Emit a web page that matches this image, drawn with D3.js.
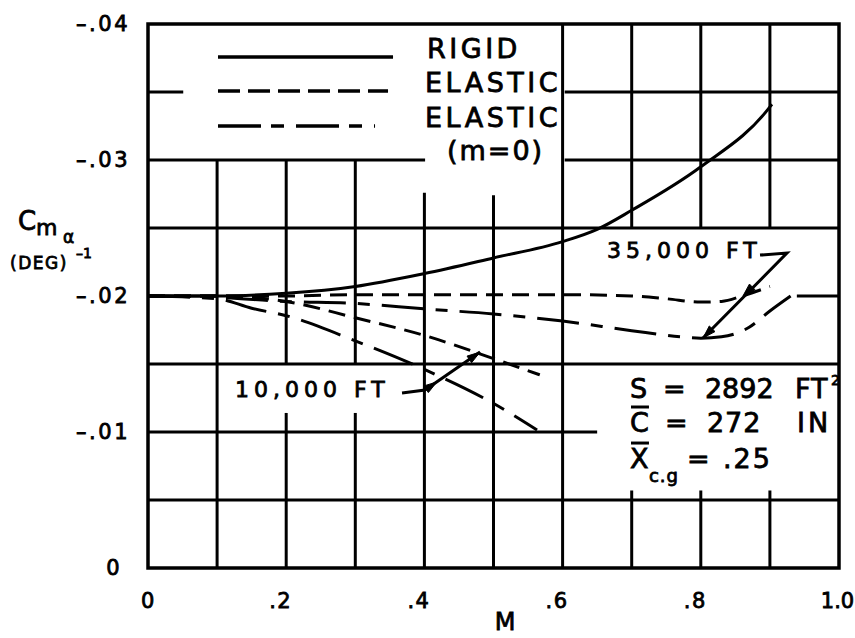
<!DOCTYPE html>
<html><head><meta charset="utf-8">
<script src="https://cdn.jsdelivr.net/npm/d3@7"></script>
<style>
body{margin:0;background:#fff}
svg{display:block;background:#fff}
text{font-family:"DejaVu Sans",sans-serif;fill:#000;stroke:#000;stroke-width:0.8px;font-weight:normal}
</style>
</head><body><svg id="c" width="855" height="638"></svg>
<script>
// ---------- data ----------
const machTicks = [0, 0.2, 0.4, 0.6, 0.8, 1.0];
const machTickLabels = ["0", ".2", ".4", ".6", ".8", "1.0"];
const cmTicks = [0, -0.01, -0.02, -0.03, -0.04];
const cmTickLabels = ["0", "–.01", "–.02", "–.03", "–.04"];

// Rigid (solid)
const rigidM = [0, 0.1, 0.2, 0.3, 0.4, 0.5, 0.6, 0.65, 0.7, 0.8, 0.9, 0.903];
const rigidC = [-0.0200, -0.0200, -0.0202, -0.0207, -0.02165, -0.0228, -0.0240, -0.0249, -0.0263, -0.0295, -0.0339, -0.0341];
// Elastic, 35,000 ft (short dash)
const el35M = [0, 0.1, 0.2, 0.3, 0.4, 0.5, 0.6, 0.7, 0.75, 0.8, 0.83, 0.86, 0.9];
const el35C = [-0.0200, -0.0200, -0.0200, -0.0201, -0.0201, -0.0201, -0.0201, -0.0200, -0.0198, -0.01955, -0.0196, -0.0200, -0.0207];
// Elastic (m=0), 35,000 ft (long-short dash)
const el35m0M = [0, 0.1, 0.2, 0.3, 0.4, 0.5, 0.6, 0.7, 0.77, 0.8, 0.83, 0.87, 0.9, 0.93];
const el35m0C = [-0.0200, -0.0199, -0.0196, -0.01945, -0.01905, -0.01868, -0.01816, -0.01745, -0.0170, -0.0169, -0.0170, -0.0177, -0.0189, -0.0200];
// Elastic, 10,000 ft (short dash)
const el10M = [0, 0.1, 0.2, 0.3, 0.4, 0.5, 0.567];
const el10C = [-0.0200, -0.0200, -0.0196, -0.0184, -0.0171, -0.0154, -0.0142];
// Elastic (m=0), 10,000 ft (long-short dash)
const el10m0M = [0, 0.1, 0.15, 0.2, 0.3, 0.4, 0.5, 0.563];
const el10m0C = [-0.0200, -0.0198, -0.0191, -0.01855, -0.0167, -0.0146, -0.0121, -0.01015];

// grid segments (data units): horizontal [C, M0, M1], vertical [M, C0, C1]
const hGrid = [[-0.035, 0, 0.051], [-0.035, 0.603, 1], [-0.03, 0, 0.401], [-0.03, 0.603, 1],
  [-0.025, 0, 1], [-0.02, 0, 0.1], [-0.02, 0.939, 1], [-0.015, 0, 1], [-0.01, 0, 0.65], [-0.005, 0, 1]];
const vGrid = [[0.1, -0.03, 0], [0.2, -0.03, -0.015], [0.2, -0.0114, 0], [0.3, -0.03, -0.015], [0.3, -0.0114, 0],
  [0.4, -0.0276, 0], [0.5, -0.0274, 0], [0.6, -0.04, 0],
  [0.7, -0.04, -0.025], [0.7, -0.0057, 0], [0.8, -0.04, -0.025], [0.8, -0.0057, 0], [0.9, -0.04, -0.025], [0.9, -0.0057, 0]];

// legend
const legendLabels = ["RIGID", "ELASTIC", "ELASTIC", "(m=0)"];
const legendKeyM = [0.1013, 0.3546];
const legendKeyC = [-0.03757, -0.03507, -0.0325];
const legendTextM = [0.4038, 0.4009, 0.4009, 0.4327];
const legendTextC = [-0.0375, -0.0350, -0.03243, -0.0300];

// altitude callouts
const call35Text = "35,000 FT", call35TextM = 0.6643, call35TextC = -0.02279;
const call35M = [0.8857, 0.9247, 0.8032], call35C = [-0.02301, -0.02316, -0.01691];
const call35HeadM = [0.861, 0.8032], call35HeadC = [-0.0200, -0.01691];
const call10Text = "10,000 FT", call10TextM = 0.1259, call10TextC = -0.01257;
const call10M = [0.3676, 0.4009, 0.4805], call10C = [-0.01287, -0.01309, -0.01588];
const call10HeadM = [0.418, 0.4805], call10HeadC = [-0.01368, -0.01588];

// geometry notes
const geomC = [-0.0125, -0.0100, -0.00735];

// ---------- drawing ----------
const W = 855, H = 638;
const margin = {left: 148, right: 16, top: 24, bottom: 70};
const svg = d3.select("#c");
const x = d3.scaleLinear().domain([0, 1]).range([margin.left, W - margin.right]);
const y = d3.scaleLinear().domain([0, -0.04]).range([H - margin.bottom, margin.top]);

const g = svg.append("g");
// grid
g.selectAll(".hg").data(hGrid).join("line")
  .attr("x1", d => x(d[1])).attr("x2", d => x(d[2]))
  .attr("y1", d => y(d[0])).attr("y2", d => y(d[0]))
  .attr("stroke", "#000").attr("stroke-width", 3);
g.selectAll(".vg").data(vGrid).join("line")
  .attr("x1", d => x(d[0])).attr("x2", d => x(d[0]))
  .attr("y1", d => y(d[1])).attr("y2", d => y(d[2]))
  .attr("stroke", "#000").attr("stroke-width", 3);
// frame
g.append("rect").attr("x", x(0)).attr("y", y(-0.04))
  .attr("width", x(1) - x(0)).attr("height", y(0) - y(-0.04))
  .attr("fill", "none").attr("stroke", "#000").attr("stroke-width", 3.5);

// axes tick labels via d3 axes
const xAxis = d3.axisBottom(x).tickValues(machTicks).tickSize(0).tickPadding(0)
  .tickFormat((d, i) => machTickLabels[i]);
const xa = svg.append("g").attr("transform", `translate(0,${y(0) + 40})`).call(xAxis);
xa.select(".domain").remove();
xa.selectAll("text").attr("font-size", 21).attr("font-family", "DejaVu Sans")
  .attr("fill", "#000").attr("dy", 0).attr("letter-spacing", (d, i) => i === 5 ? 0 : 1.5)
  .attr("dx", (d, i) => machTickLabels[i].startsWith(".") ? -6 : (i === 5 ? -2 : 0));

const yAxis = d3.axisLeft(y).tickValues(cmTicks).tickSize(0).tickPadding(0)
  .tickFormat((d, i) => cmTickLabels[i]);
const ya = svg.append("g").attr("transform", `translate(${x(0) - 18},0)`).call(yAxis);
ya.select(".domain").remove();
ya.selectAll("text").attr("font-size", 21).attr("font-family", "DejaVu Sans")
  .attr("fill", "#000").attr("letter-spacing", 2.5)
  .attr("dx", (d, i) => cmTickLabels[i] === "0" ? -8 : 0);

// curves
const line = d3.line().x(d => x(d[0])).y(d => y(d[1])).curve(d3.curveMonotoneX);
const zip = (a, b) => a.map((v, i) => [v, b[i]]);
const SHORT = "17,9", LONG = "42,12,12,12";
const series = [
  {m: rigidM, c: rigidC, dash: null},
  {m: el35M, c: el35C, dash: SHORT},
  {m: el10M, c: el10C, dash: SHORT},
  {m: el35m0M, c: el35m0C, dash: LONG},
  {m: el10m0M, c: el10m0C, dash: LONG}
];
g.selectAll(".curve").data(series).join("path")
  .attr("d", d => line(zip(d.m, d.c)))
  .attr("fill", "none").attr("stroke", "#000").attr("stroke-width", 3)
  .attr("stroke-dasharray", d => d.dash);

// legend
const keyDash = [null, "22,8", "43,10,13,12"];
g.selectAll(".key").data(legendKeyC).join("line")
  .attr("x1", x(legendKeyM[0])).attr("x2", (d, i) => x(legendKeyM[1]) - (i === 2 ? 18 : i === 1 ? 5 : 0))
  .attr("y1", d => y(d)).attr("y2", d => y(d))
  .attr("stroke", "#000").attr("stroke-width", 3.5)
  .attr("stroke-dasharray", (d, i) => keyDash[i]);
g.selectAll(".ltext").data(legendLabels).join("text")
  .attr("x", (d, i) => x(legendTextM[i])).attr("y", (d, i) => y(legendTextC[i]))
  .attr("font-size", 27).attr("letter-spacing", (d, i) => i === 3 ? 2 : 3.5).text(d => d);

// callouts
function arrowHead(px, py, fromx, fromy) {
  const ang = Math.atan2(py - fromy, px - fromx);
  const L = 13, Wd = 4;
  const bx = px - L * Math.cos(ang), by = py - L * Math.sin(ang);
  const nx = -Math.sin(ang) * Wd, ny = Math.cos(ang) * Wd;
  return `M${px},${py}L${bx + nx},${by + ny}L${bx - nx},${by - ny}Z`;
}
function callout(text, tm, tc, lm, lc, hm, hc) {
  g.append("text").attr("x", x(tm)).attr("y", y(tc)).attr("font-size", 22)
    .attr("letter-spacing", 5).attr("xml:space", "preserve").text(text);
  const pts = zip(lm, lc);
  g.append("path").attr("d", d3.line().x(d => x(d[0])).y(d => y(d[1]))(pts))
    .attr("fill", "none").attr("stroke", "#000").attr("stroke-width", 3);
  const fx = x(lm[lm.length - 2]), fy = y(lc[lc.length - 2]);
  hm.forEach((m, i) => {
    g.append("path").attr("d", arrowHead(x(m), y(hc[i]), fx, fy)).attr("fill", "#000").attr("stroke", "#000").attr("stroke-width", 1);
  });
}
callout(call35Text, call35TextM, call35TextC, call35M, call35C, call35HeadM, call35HeadC);
callout(call10Text, call10TextM, call10TextC, call10M, call10C, call10HeadM, call10HeadC);

// geometry block
const colM = [0.6975, 0.7453, 0.806, 0.9363];
const gt = g.append("g").attr("font-size", 27);
// S line
gt.append("text").attr("x", x(colM[0])).attr("y", y(geomC[0])).text("S");
gt.append("text").attr("x", x(colM[1])).attr("y", y(geomC[0])).text("=");
gt.append("text").attr("x", x(colM[2])).attr("y", y(geomC[0])).text("2892");
gt.append("text").attr("x", x(colM[3])).attr("y", y(geomC[0])).attr("letter-spacing", 1).text("FT");
gt.append("text").attr("x", x(colM[3]) + 36).attr("y", y(geomC[0]) - 13).attr("font-size", 14).text("2");
// C line
gt.append("text").attr("x", x(colM[0])).attr("y", y(geomC[1])).text("C");
gt.append("line").attr("x1", x(colM[0]) + 1).attr("x2", x(colM[0]) + 19)
  .attr("y1", y(geomC[1]) - 25).attr("y2", y(geomC[1]) - 25).attr("stroke", "#000").attr("stroke-width", 3);
gt.append("text").attr("x", x(colM[1]) + 2).attr("y", y(geomC[1])).text("=");
gt.append("text").attr("x", x(colM[2]) + 2).attr("y", y(geomC[1])).attr("letter-spacing", 1).text("272");
gt.append("text").attr("x", x(colM[3]) + 2).attr("y", y(geomC[1])).attr("letter-spacing", 3).text("IN");
// X line
gt.append("text").attr("x", x(colM[0])).attr("y", y(geomC[2])).text("X");
gt.append("line").attr("x1", x(colM[0]) + 1).attr("x2", x(colM[0]) + 19)
  .attr("y1", y(geomC[2]) - 25).attr("y2", y(geomC[2]) - 25).attr("stroke", "#000").attr("stroke-width", 3);
gt.append("text").attr("x", x(colM[0]) + 19).attr("y", y(geomC[2]) + 14).attr("font-size", 18).attr("letter-spacing", 1).text("c.g");
gt.append("text").attr("x", x(0.78)).attr("y", y(geomC[2])).text("=");
gt.append("text").attr("x", x(0.832)).attr("y", y(geomC[2])).attr("letter-spacing", 2).text(".25");

// axis titles
const yt = svg.append("g").attr("transform", `translate(${margin.left - 130},${y(-0.02) - 66})`);
yt.append("text").attr("x", 0).attr("y", 0).attr("font-size", 26).text("C");
yt.append("text").attr("x", 18).attr("y", 5).attr("font-size", 22).text("m");
yt.append("text").attr("x", 45).attr("y", 13).attr("font-size", 17).text("α");
yt.append("text").attr("x", -8).attr("y", 39).attr("font-size", 17).attr("letter-spacing", 1.5).text("(DEG)");
yt.append("text").attr("x", 58).attr("y", 28).attr("font-size", 14).text("–1");

svg.append("text").attr("x", x(0.5167)).attr("y", H - 8).attr("text-anchor", "middle")
  .attr("font-size", 24).text("M");
</script>
</body></html>
